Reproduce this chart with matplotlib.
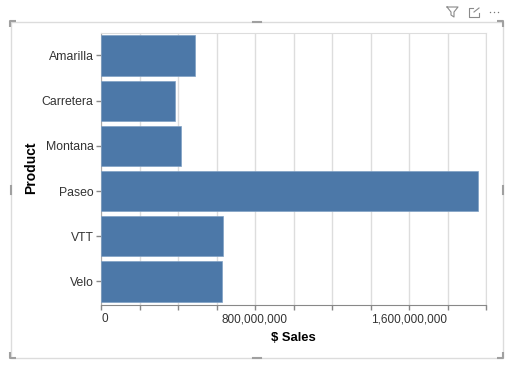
import matplotlib
matplotlib.use("Agg")
import matplotlib.pyplot as plt
from matplotlib.patches import Rectangle

products = ["Amarilla", "Carretera", "Montana", "Paseo", "VTT", "Velo"]
sales = [488e6, 382e6, 416e6, 1961e6, 634e6, 627e6]
x_ticks = [0, 200e6, 400e6, 600e6, 800e6, 1000e6, 1200e6, 1400e6, 1600e6, 1800e6, 2000e6]
x_labels = ["0", "", "", "", "800,000,000", "", "", "", "1,600,000,000", "", ""]

W, H = 508, 366
plt.rcParams["font.family"] = ["Liberation Sans", "DejaVu Sans"]
fig = plt.figure(figsize=(W / 100, H / 100), dpi=100)

# power bi visual frame, in pixels
chrome = fig.add_axes([0, 0, 1, 1])
chrome.set_xlim(0, W)
chrome.set_ylim(H, 0)
chrome.axis("off")
chrome.add_patch(Rectangle((10.5, 21.5), 492.5, 336.5, fill=False, ec="#dcdcdc", lw=1))
for cx, cy, dx, dy in [(10, 21, 1, 1), (503, 21, -1, 1), (10, 358, 1, -1), (503, 358, -1, -1)]:
    chrome.plot([cx + 6 * dx, cx, cx], [cy, cy, cy + 6 * dy], color="#a0a0a0", lw=1.5, solid_capstyle="butt")
for mx in [257]:
    chrome.plot([mx - 4, mx + 4], [21.5, 21.5], color="#a0a0a0", lw=1.5)
    chrome.plot([mx - 4, mx + 4], [358, 358], color="#a0a0a0", lw=1.5)
for mx in [10.5, 503]:
    chrome.plot([mx, mx], [186, 194], color="#a0a0a0", lw=1.5)

# header icons
chrome.plot([447, 458, 454, 454, 451, 451, 447], [7, 7, 12, 17, 15, 12, 7], color="#8a8a8a", lw=0.8)
chrome.plot([473, 469, 469, 479, 479], [8, 8, 17, 17, 13], color="#8a8a8a", lw=0.8)
chrome.plot([474, 479, 479], [12, 8, 8], color="#8a8a8a", lw=0.8)
chrome.plot([490, 494, 498], [12, 12, 12], ls="none", marker="o", ms=1.0, mew=0, color="#777777")

ax = fig.add_axes([101 / W, 1 - 304.5 / H, 385 / W, 271.2 / H])
ax.barh(products, sales, height=0.89, color="#4c78a8", edgecolor="#7fa0c4", linewidth=0.5, zorder=3)
ax.set_xlim(0, 2000e6)
ax.set_ylim(5.51, -0.49)

ax.set_xticks(x_ticks)
ax.set_xticklabels(x_labels)
ax.grid(axis="x", color="#dddddd", lw=1, zorder=0)
ax.set_axisbelow(True)
ax.tick_params(axis="y", length=3.8, width=1, color="#888888", labelsize=8.8, labelcolor="#333333", pad=1.5)
ax.tick_params(axis="x", length=3.8, width=1, color="#888888", labelsize=8.5, labelcolor="#333333", pad=2.5)
ax.get_xticklabels()[0].set_ha("left")

ax.spines["top"].set_color("#dddddd")
ax.spines["right"].set_color("#dddddd")
ax.spines["bottom"].set_color("#888888")
ax.spines["left"].set_color("#aaaaaa")

ax.set_xlabel("$ Sales", fontsize=9.4, fontweight="bold", color="black", va="center")
ax.set_ylabel("Product", fontsize=10, fontweight="bold", color="black", va="center")
ax.xaxis.set_label_coords(0.5, -0.122)
ax.yaxis.set_label_coords(-0.181, 0.503)

fig.savefig("out.png", dpi=100)
